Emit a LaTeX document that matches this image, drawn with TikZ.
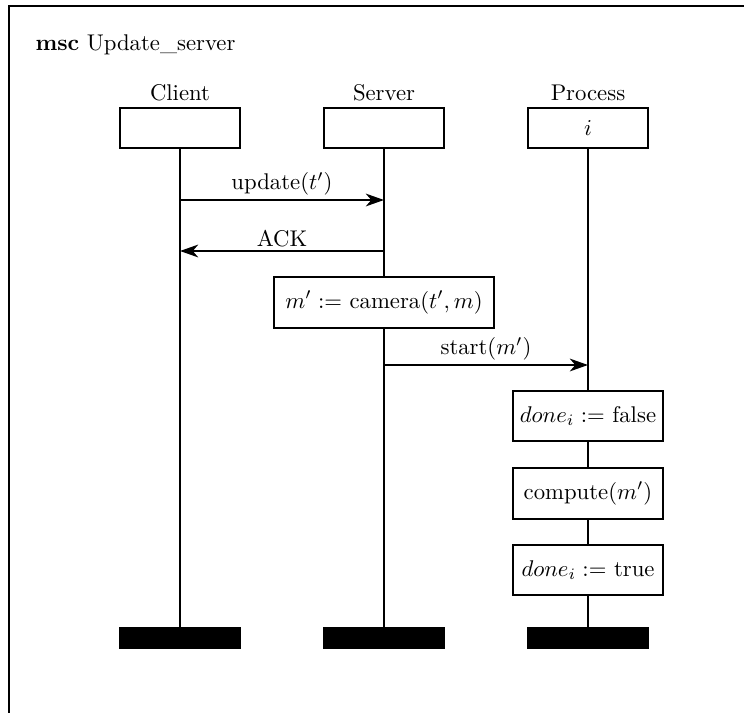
\documentclass[tikz,border=0pt]{standalone}
\usetikzlibrary{arrows.meta}
\begin{document}
\begin{tikzpicture}[x=0.44pt,y=-0.44pt,line width=0.85pt,
  inst/.style={draw,fill=white,minimum width=52.8pt,minimum height=17.6pt,inner sep=0pt},
  endbar/.style={draw,fill=black,minimum width=52.8pt,minimum height=8.8pt,inner sep=0pt},
  act/.style={draw,fill=white,minimum height=22.4pt,inner sep=0pt},
  msg/.style={-{Stealth[length=8pt,width=5.6pt,inset=2.4pt]}},
  lbl/.style={above=0.5pt,midway,inner sep=1pt}]
\useasboundingbox (0,0) rectangle (744,713);
% frame (only left and top edges are within the page)
\draw (9,713) -- (9,6) -- (744,6);
\node[anchor=west] (title) at (27,45) {\textbf{msc} Update\_server};
% instance heads
\node (cn) at (180,93) {Client};
\node (sn) at (384,93) {Server};
\node (pn) at (588,93) {Process};
\node[inst] (ch) at (180,128) {};
\node[inst] (sh) at (384,128) {};
\node[inst] (ph) at (588,128) {$i$};
% ends
\node[endbar] (ce) at (180,638) {};
\node[endbar] (se) at (384,638) {};
\node[endbar] (pe) at (588,638) {};
% actions
\node[act,minimum width=97.2pt] (cam) at (384,302.5) {$m' :=$ camera$(t',m)$};
\node[act,minimum width=66pt] (dfalse) at (588,416) {$done_i :=$ false};
\node[act,minimum width=66pt] (comp) at (588,493.5) {compute$(m')$};
\node[act,minimum width=66pt] (dtrue) at (588,570) {$done_i :=$ true};
% lifelines
\draw (ch.south) -- (ce.north);
\draw (sh.south) -- (cam.north);
\draw (cam.south) -- (se.north);
\draw (ph.south) -- (dfalse.north);
\draw (dfalse.south) -- (comp.north);
\draw (comp.south) -- (dtrue.north);
\draw (dtrue.south) -- (pe.north);
% messages
\draw[msg] (ch.south |- 0,200) -- node[lbl] {update$(t')$} (sh.south |- 0,200);
\draw[msg] (sh.south |- 0,251) -- node[lbl] {ACK} (ch.south |- 0,251);
\draw[msg] (sh.south |- 0,365) -- node[lbl] {start$(m')$} (ph.south |- 0,365);
\end{tikzpicture}
\end{document}
